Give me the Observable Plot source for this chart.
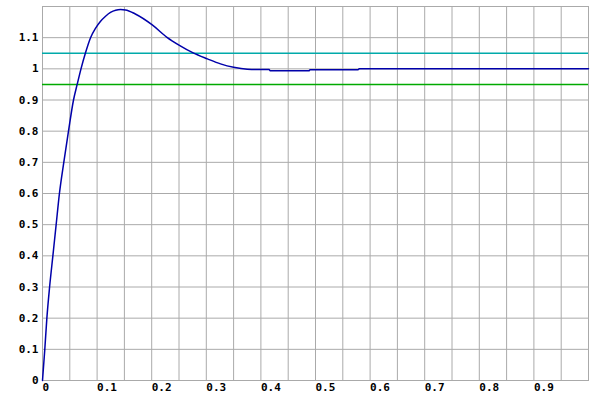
<!DOCTYPE html>
<html>
<head>
<meta charset="utf-8">
<script src="https://cdn.jsdelivr.net/npm/d3@7"></script>
<script src="https://cdn.jsdelivr.net/npm/@observablehq/plot@0.6"></script>
<style>
  html, body { margin: 0; padding: 0; background: #ffffff; }
  #chart { width: 600px; height: 400px; }
</style>
</head>
<body>
<div id="chart"></div>
<script>
// Step response samples
const time = [0, 0.0042, 0.0080, 0.0130, 0.019, 0.025, 0.031, 0.039, 0.0476, 0.0568, 0.0635, 0.0705, 0.0785, 0.088, 0.097, 0.106, 0.115, 0.1245, 0.134, 0.143, 0.152, 0.170, 0.201, 0.228, 0.250, 0.276, 0.302, 0.326, 0.350, 0.375, 0.400, 0.415, 0.417, 0.488, 0.490, 0.578, 0.580, 1.0];
const response = [0, 0.1, 0.2, 0.3, 0.4, 0.5, 0.6, 0.7, 0.8, 0.9, 0.95, 1.0, 1.05, 1.1, 1.13, 1.152, 1.168, 1.181, 1.188, 1.19, 1.189, 1.176, 1.141, 1.101, 1.076, 1.051, 1.032, 1.016, 1.005, 0.999, 0.998, 0.998, 0.9936, 0.9936, 0.997, 0.997, 1.0, 1.0];

// Tolerance band lines
const upperBand = [1.05];
const lowerBand = [0.95];

// Ticks
const xTicks = [0, 0.1, 0.2, 0.3, 0.4, 0.5, 0.6, 0.7, 0.8, 0.9];
const yTicks = [0, 0.1, 0.2, 0.3, 0.4, 0.5, 0.6, 0.7, 0.8, 0.9, 1, 1.1];
const xGrid = [0, 0.05, 0.1, 0.15, 0.2, 0.25, 0.3, 0.35, 0.4, 0.45, 0.5, 0.55, 0.6, 0.65, 0.7, 0.75, 0.8, 0.85, 0.9, 0.95, 1.0];
const yGrid = [0, 0.1, 0.2, 0.3, 0.4, 0.5, 0.6, 0.7, 0.8, 0.9, 1.0, 1.1, 1.2];

const data = time.map((t, i) => ({t, y: response[i]}));
const fmt = d => String(+d.toFixed(2));

const chart = Plot.plot({
  width: 600,
  height: 400,
  marginLeft: 42,
  marginRight: 12,
  marginTop: 6,
  marginBottom: 20,
  style: {fontFamily: "'DejaVu Sans Mono', monospace", fontSize: "11px", fontWeight: "bold", background: "#ffffff", color: "#000000"},
  x: {domain: [0, 1]},
  y: {domain: [0, 1.2]},
  marks: [
    Plot.gridX(xGrid, {stroke: "#aaaaaa", strokeOpacity: 1, strokeWidth: 1}),
    Plot.gridY(yGrid, {stroke: "#aaaaaa", strokeOpacity: 1, strokeWidth: 1}),
    Plot.frame({stroke: "#aaaaaa", strokeWidth: 1}),
    Plot.ruleY(upperBand, {stroke: "#00aaaa", strokeWidth: 1.5}),
    Plot.ruleY(lowerBand, {stroke: "#00aa00", strokeWidth: 1.5}),
    Plot.line(data, {x: "t", y: "y", stroke: "#0000aa", strokeWidth: 1.5, curve: "monotone-x"}),
    Plot.axisX(xTicks, {tickSize: 0, tickPadding: 3, tickFormat: fmt, textAnchor: "start", fill: "#000000", fontWeight: "bold", label: null}),
    Plot.axisY(yTicks, {tickSize: 0, tickPadding: 4, tickFormat: fmt, fill: "#000000", fontWeight: "bold", label: null})
  ]
});
document.getElementById("chart").appendChild(chart);
</script>
</body>
</html>
